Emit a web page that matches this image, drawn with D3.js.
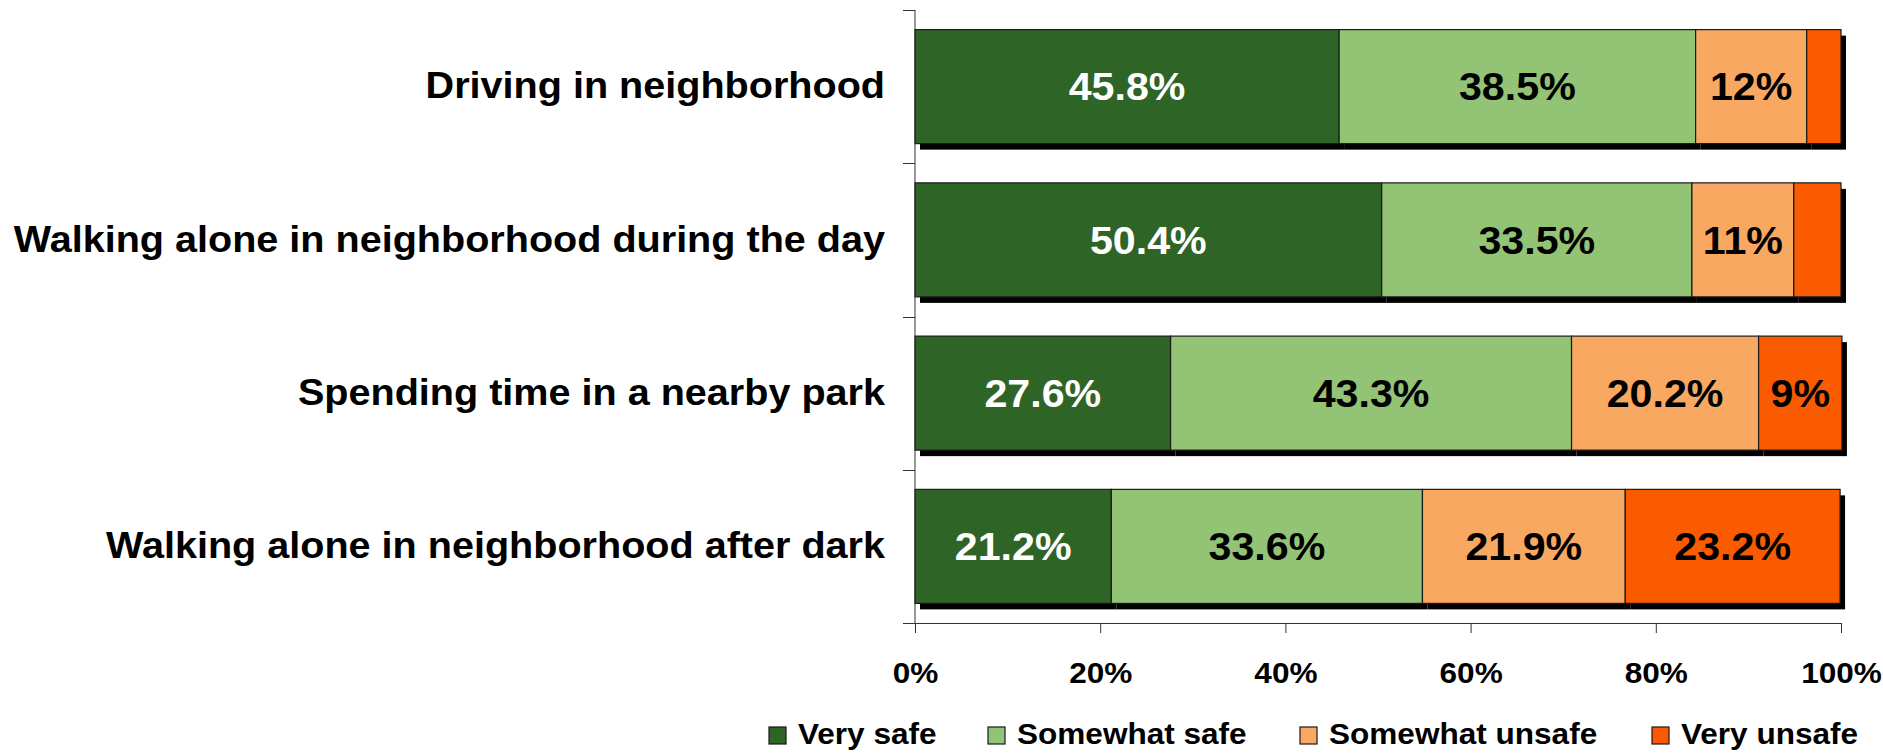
<!DOCTYPE html>
<html>
<head>
<meta charset="utf-8">
<script src="https://cdn.jsdelivr.net/npm/d3@7"></script>
<style>
  html, body { margin: 0; padding: 0; background: #fff; }
  svg { display: block; font-family: "Liberation Sans", Arial, sans-serif; font-weight: bold; }
</style>
</head>
<body>
<svg id="chart" width="1883" height="753"></svg>
<script>
// Perceived safety by activity (percent of respondents)
const categories = [
  "Driving in neighborhood",
  "Walking alone in neighborhood during the day",
  "Spending time in a nearby park",
  "Walking alone in neighborhood after dark"
];
const seriesNames = ["Very safe", "Somewhat safe", "Somewhat unsafe", "Very unsafe"];
const verySafe       = [45.8, 50.4, 27.6, 21.2];
const somewhatSafe   = [38.5, 33.5, 43.3, 33.6];
const somewhatUnsafe = [12,   11,   20.2, 21.9];
const veryUnsafe     = [3.7,  5.1,  9,    23.2];
const tickValues = [0, 20, 40, 60, 80, 100];

const colors = ["#2e6425", "#93c375", "#f9a861", "#fa5b00"];
const labelColors = ["#ffffff", "#000000", "#000000", "#000000"];
// text is drawn slightly widened horizontally
const textStretch = 1.07;

const rows = categories.map((c, i) => ({
  category: c,
  "Very safe": verySafe[i],
  "Somewhat safe": somewhatSafe[i],
  "Somewhat unsafe": somewhatUnsafe[i],
  "Very unsafe": veryUnsafe[i]
}));

const svg = d3.select("#chart");
const plot = { left: 915, right: 1841, top: 10, bottom: 623 };

const x = d3.scaleLinear().domain([0, 100]).range([plot.left, plot.right]);
const y = d3.scaleBand()
  .domain(categories)
  .range([plot.top, plot.bottom])
  .paddingInner(0.256)
  .paddingOuter(0.128);

const stacked = d3.stack().keys(seriesNames)(rows);

// drop shadows under every segment
const shadow = svg.append("g");
stacked.forEach(layer => {
  shadow.selectAll(null)
    .data(layer)
    .join("rect")
    .attr("x", d => x(d[0]) + 5)
    .attr("y", d => y(d.data.category) + 6)
    .attr("width", d => x(d[1]) - x(d[0]))
    .attr("height", y.bandwidth())
    .attr("fill", "#000");
});

// stacked segments
const bars = svg.append("g");
stacked.forEach((layer, k) => {
  bars.selectAll(null)
    .data(layer)
    .join("rect")
    .attr("x", d => x(d[0]))
    .attr("y", d => y(d.data.category))
    .attr("width", d => x(d[1]) - x(d[0]))
    .attr("height", y.bandwidth())
    .attr("fill", colors[k])
    .attr("stroke", "#1a1a1a")
    .attr("stroke-width", 1.2);
});

// value labels inside segments
const labels = svg.append("g").attr("font-size", 38.5).attr("text-anchor", "middle");
stacked.forEach((layer, k) => {
  labels.selectAll(null)
    .data(layer.filter(d => d[1] - d[0] >= 6))
    .join("text")
    .attr("transform", d => `translate(${(x(d[0]) + x(d[1])) / 2},${y(d.data.category) + y.bandwidth() / 2}) scale(${textStretch},1)`)
    .attr("dy", "0.36em")
    .attr("fill", labelColors[k])
    .text(d => `${d.data[seriesNames[k]]}%`);
});

// category axis
const yAxis = svg.append("g")
  .attr("transform", `translate(${plot.left},0)`)
  .call(d3.axisLeft(y).tickSize(0).tickPadding(30))
  .call(g => g.select(".domain").attr("stroke", "#333").attr("d", `M0,${plot.top}V${plot.bottom}`));
yAxis.selectAll(".tick text")
  .attr("x", null)
  .attr("transform", `translate(-30,0) scale(${textStretch},1)`)
  .attr("font-size", 37)
  .attr("font-family", "'Liberation Sans', Arial, sans-serif")
  .attr("font-weight", "bold")
  .attr("fill", "#000");
// band boundary ticks
yAxis.selectAll(".band-tick")
  .data(categories.map(c => y(c) - y.step() * y.paddingInner() / 2).concat([plot.bottom]))
  .join("line")
  .attr("class", "band-tick")
  .attr("x1", -12).attr("x2", 0)
  .attr("y1", d => Math.round(d) + 0.5).attr("y2", d => Math.round(d) + 0.5)
  .attr("stroke", "#333");

// percent axis
const xAxis = svg.append("g")
  .attr("transform", `translate(0,${plot.bottom})`)
  .call(d3.axisBottom(x).tickValues(tickValues).tickFormat(d => d + "%").tickSizeOuter(0).tickSizeInner(10).tickPadding(29))
  .call(g => g.select(".domain").attr("stroke", "#333"))
  .call(g => g.selectAll(".tick line").attr("stroke", "#333"));
xAxis.selectAll(".tick text")
  .attr("transform", `scale(${textStretch},1)`)
  .attr("font-size", 29.5)
  .attr("font-family", "'Liberation Sans', Arial, sans-serif")
  .attr("font-weight", "bold")
  .attr("fill", "#000");

// legend
const legendX = [769, 988, 1300, 1652];
const legend = svg.append("g");
seriesNames.forEach((name, k) => {
  const g = legend.append("g").attr("transform", `translate(${legendX[k]},727)`);
  g.append("rect")
    .attr("width", 17).attr("height", 17)
    .attr("fill", colors[k]).attr("stroke", "#1a1a1a").attr("stroke-width", 1.2);
  g.append("text")
    .attr("transform", `translate(29,16.5) scale(${textStretch},1)`)
    .attr("font-size", 29.5)
    .attr("fill", "#000")
    .text(name);
});
</script>
</body>
</html>
